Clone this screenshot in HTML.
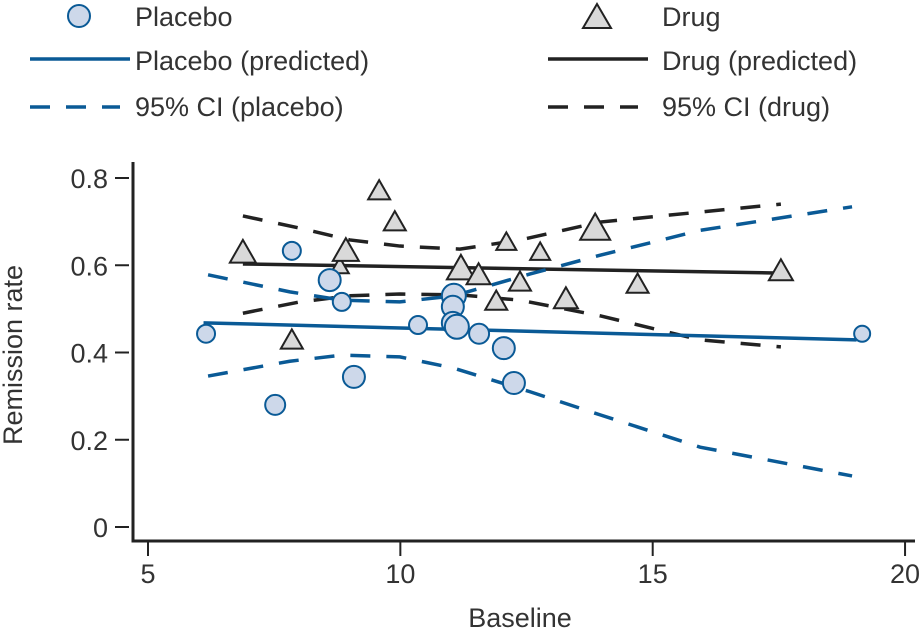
<!DOCTYPE html>
<html><head><meta charset="utf-8"><style>
body{margin:0;background:#fff}
svg{display:block;font-family:"Liberation Sans",sans-serif}
text{fill:#333}
</style></head><body>
<svg id="chart" width="922" height="629">
<g id="legend">
 <g><circle cx="79" cy="16" r="11" fill="#cdd8ea" stroke="#0a5a96" stroke-width="2"/><text x="135" y="26" font-size="27">Placebo</text></g>
 <g><polygon points="597,4 611,28 583,28" fill="#d9d9d9" stroke="#222" stroke-width="2"/><text x="662" y="26" font-size="27">Drug</text></g>
 <g><line x1="30" y1="59" x2="130" y2="59" stroke="#0a5a96" stroke-width="3.5"/><text x="135" y="70" font-size="27">Placebo (predicted)</text></g>
 <g><line x1="548" y1="59" x2="648" y2="59" stroke="#222" stroke-width="3.5"/><text x="662" y="70" font-size="27">Drug (predicted)</text></g>
 <g><line x1="30" y1="107" x2="120" y2="107" stroke="#0a5a96" stroke-width="3.5" stroke-dasharray="20,16"/><text x="135" y="116" font-size="27">95% CI (placebo)</text></g>
 <g><line x1="548" y1="107" x2="638" y2="107" stroke="#222" stroke-width="3.5" stroke-dasharray="20,16"/><text x="662" y="116" font-size="27">95% CI (drug)</text></g>
</g>
<g id="axes"></g>
<g id="marks"></g>
<text x="520" y="627" font-size="27" text-anchor="middle">Baseline</text>
<text transform="translate(22,355) rotate(-90)" font-size="27" text-anchor="middle">Remission rate</text>
</svg>
<script>
const xTicks=[5,10,15,20];
const yTicks=[0,0.2,0.4,0.6,0.8];
const yTickLabels=["0","0.2","0.4","0.6","0.8"];
const placeboX=[6.15,7.85,8.6,8.84,7.52,9.08,10.35,11.06,11.04,11.04,11.12,11.56,12.05,12.25,19.15];
const placeboY=[0.443,0.633,0.566,0.516,0.28,0.344,0.463,0.53,0.505,0.468,0.459,0.443,0.41,0.33,0.443];
const placeboSize=[9,9,11,9,10,11,9,12,11,11,12,10,11,11,8];
const drugX=[6.88,9.58,9.89,8.8,8.92,7.85,11.2,11.55,12.1,12.77,12.37,11.9,13.86,13.28,14.7,17.54];
const drugY=[0.624,0.766,0.695,0.594,0.628,0.424,0.587,0.573,0.649,0.626,0.557,0.513,0.679,0.518,0.552,0.582];
const drugSize=[13,11,11,9,13,11,14,12,10,10,11,11,15,12,11,12];
const placeboPredX=[6.1,19.04];
const placeboPredY=[0.468,0.429];
const drugPredX=[6.88,17.54];
const drugPredY=[0.603,0.582];
const ciPlaceboX=[6.19,7.81,8.84,9.99,11.06,12.57,13.96,15.94,18.95];
const ciPlaceboUpper=[0.578,0.539,0.52,0.516,0.53,0.58,0.623,0.68,0.734];
const ciPlaceboLower=[0.346,0.38,0.394,0.39,0.364,0.31,0.257,0.183,0.117];
const ciDrugX=[6.88,8.01,9.0,9.99,11.18,12.37,13.96,15.94,17.54];
const ciDrugUpper=[0.713,0.685,0.658,0.644,0.637,0.658,0.699,0.722,0.74];
const ciDrugLower=[0.49,0.516,0.53,0.534,0.532,0.52,0.484,0.429,0.413];

const NS="http://www.w3.org/2000/svg";
const xs=v=>148+(v-5)*50.47;
const ys=v=>527-v*436.25;
function mk(tag,attrs,parent){const e=document.createElementNS(NS,tag);for(const k in attrs)e.setAttribute(k,attrs[k]);parent.appendChild(e);return e;}
const axes=document.getElementById('axes'),marks=document.getElementById('marks');
let e=mk('polyline',{points:"133,162 133,541 915,541",fill:"none",stroke:"#222","stroke-width":3},axes);


xTicks.forEach(t=>{
 let l=mk('line',{x1:xs(t),x2:xs(t),y1:541,y2:556,stroke:"#222","stroke-width":2},axes);
 
 
 let tx=mk('text',{x:xs(t),y:583,"font-size":27,"text-anchor":"middle"},axes);tx.textContent=t;
 
 
});
yTicks.forEach((t,i)=>{
 let l=mk('line',{x1:115,x2:129,y1:ys(t),y2:ys(t),stroke:"#222","stroke-width":2},axes);
 
 
 let tx=mk('text',{x:108,y:ys(t)+10,"font-size":27,"text-anchor":"end"},axes);tx.textContent=yTickLabels[i];
 
 
});
function line(X,Y,color,dash,name){
 let p=mk('polyline',{points:X.map((x,i)=>xs(x)+","+ys(Y[i])).join(" "),fill:"none",stroke:color,"stroke-width":3.5},marks);
 if(dash)p.setAttribute('stroke-dasharray',dash);
 
 
}
line(ciDrugX,ciDrugUpper,"#222","20,16","ci-drug-upper");
line(ciDrugX,ciDrugLower,"#222","20,16","ci-drug-lower");
line(drugPredX,drugPredY,"#222",null,"drug-predicted-line");
drugX.forEach((x,i)=>{
 const cx=xs(x),cy=ys(drugY[i]),s=drugSize[i];
 let t=mk('polygon',{points:`${cx},${cy-s*1.15} ${cx+s},${cy+s*0.6} ${cx-s},${cy+s*0.6}`,fill:"#d9d9d9",stroke:"#222","stroke-width":2},marks);
 
 
});
line(ciPlaceboX,ciPlaceboUpper,"#0a5a96","20,16","ci-placebo-upper");
line(ciPlaceboX,ciPlaceboLower,"#0a5a96","20,16","ci-placebo-lower");
line(placeboPredX,placeboPredY,"#0a5a96",null,"placebo-predicted-line");
placeboX.forEach((x,i)=>{
 let c=mk('circle',{cx:xs(x),cy:ys(placeboY[i]),r:placeboSize[i],fill:"#cdd8ea",stroke:"#0a5a96","stroke-width":2},marks);
 
 
});
</script>
</body></html>
